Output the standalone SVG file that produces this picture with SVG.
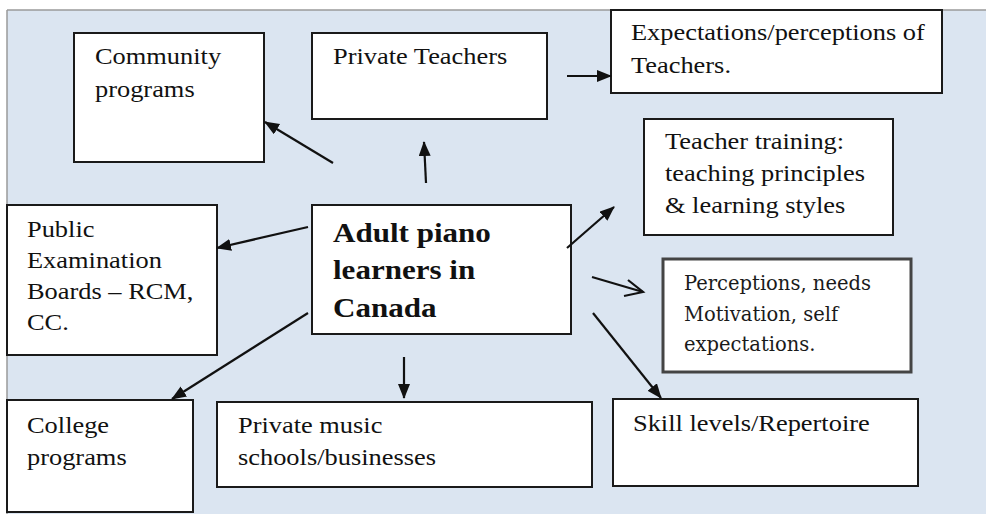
<svg xmlns="http://www.w3.org/2000/svg" width="986" height="514" viewBox="0 0 986 514">
<style>
.box{fill:#fff;stroke:#1a1a1a;stroke-width:2}
.t{font-family:"Liberation Serif","Times New Roman",serif;font-size:24px;fill:#111}
.b{font-family:"Liberation Serif","Times New Roman",serif;font-size:27px;font-weight:bold;fill:#111}
.p{font-family:"DejaVu Serif",serif;font-size:19.5px;fill:#1a1a1a}
.c{stroke:#111;stroke-width:2.2;fill:none}
</style>
<defs>
<marker id="ah" markerUnits="userSpaceOnUse" markerWidth="16" markerHeight="14" refX="14" refY="6" orient="auto">
<path d="M0,0 L15,6 L0,12 Z" fill="#111"/>
</marker>
</defs>
<rect x="0" y="0" width="986" height="514" fill="#fff"/>
<rect x="7" y="10" width="979" height="504" fill="#dbe5f1"/>
<line x1="7" y1="10" x2="986" y2="10" stroke="#9a9a9a" stroke-width="1.5"/>
<line x1="7" y1="10" x2="7" y2="514" stroke="#9a9a9a" stroke-width="1.5"/>

<g id="community">
<rect class="box" x="74" y="33" width="190" height="129"/>
<text class="t" transform="translate(95,64) scale(1.1,1)"><tspan x="0" y="0">Community</tspan><tspan x="0" y="33">programs</tspan></text>
</g>
<g id="private-teachers">
<rect class="box" x="312" y="33" width="235" height="86"/>
<text class="t" transform="translate(333,64) scale(1.1,1)">Private Teachers</text>
</g>
<g id="expectations">
<rect class="box" x="611" y="10" width="331" height="83"/>
<text class="t" transform="translate(631,40) scale(1.1,1)"><tspan x="0" y="0">Expectations/perceptions of</tspan><tspan x="0" y="33">Teachers.</tspan></text>
</g>
<g id="teacher-training">
<rect class="box" x="644" y="119" width="249" height="116"/>
<text class="t" transform="translate(665,149) scale(1.1,1)"><tspan x="0" y="0">Teacher training:</tspan><tspan x="0" y="32">teaching principles</tspan><tspan x="0" y="64">&amp; learning styles</tspan></text>
</g>
<g id="perceptions">
<rect x="663" y="259" width="248" height="113" fill="#fff" stroke="#444" stroke-width="3"/>
<text class="p" transform="translate(684,290)"><tspan x="0" y="0">Perceptions, needs</tspan><tspan x="0" y="31">Motivation, self</tspan><tspan x="0" y="61">expectations.</tspan></text>
</g>
<g id="central">
<rect class="box" x="312" y="205" width="259" height="129"/>
<text class="b" transform="translate(333,242) scale(1.15,1)"><tspan x="0" y="0">Adult piano</tspan><tspan x="0" y="37">learners in</tspan><tspan x="0" y="75">Canada</tspan></text>
</g>
<g id="public-exam">
<rect class="box" x="7" y="205" width="210" height="150"/>
<text class="t" transform="translate(27,237) scale(1.1,1)"><tspan x="0" y="0">Public</tspan><tspan x="0" y="31">Examination</tspan><tspan x="0" y="62">Boards – RCM,</tspan><tspan x="0" y="93">CC.</tspan></text>
</g>
<g id="college">
<rect class="box" x="7" y="400" width="186" height="112"/>
<text class="t" transform="translate(27,433) scale(1.1,1)"><tspan x="0" y="0">College</tspan><tspan x="0" y="32">programs</tspan></text>
</g>
<g id="private-music">
<rect class="box" x="217" y="402" width="375" height="85"/>
<text class="t" transform="translate(238,433) scale(1.1,1)"><tspan x="0" y="0">Private music</tspan><tspan x="0" y="32">schools/businesses</tspan></text>
</g>
<g id="skill-levels">
<rect class="box" x="613" y="399" width="305" height="87"/>
<text class="t" transform="translate(633,431) scale(1.1,1)">Skill levels/Repertoire</text>
</g>

<g id="connectors">
<line class="c" x1="333" y1="163" x2="265" y2="122" marker-end="url(#ah)"/>
<line class="c" x1="426" y1="183" x2="424" y2="142" marker-end="url(#ah)"/>
<line class="c" x1="567" y1="76" x2="611" y2="76" marker-end="url(#ah)"/>
<line class="c" x1="308" y1="227" x2="217" y2="248" marker-end="url(#ah)"/>
<line class="c" x1="308" y1="313" x2="172" y2="399" marker-end="url(#ah)"/>
<line class="c" x1="404" y1="357" x2="404" y2="398" marker-end="url(#ah)"/>
<line class="c" x1="567" y1="248" x2="614" y2="207" marker-end="url(#ah)"/>
<line class="c" x1="592" y1="277" x2="643" y2="292"/>
<path class="c" d="M628,280 L643,292 L624,296"/>
<line class="c" x1="593" y1="313" x2="661" y2="398" marker-end="url(#ah)"/>
</g>
</svg>
